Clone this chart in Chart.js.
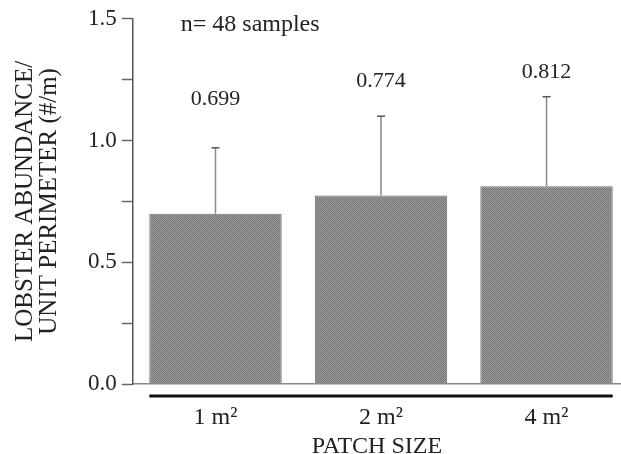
<!DOCTYPE html>
<html>
<head>
<meta charset="utf-8">
<script src="https://cdn.jsdelivr.net/npm/chart.js@4"></script>
<style>
  html, body { margin: 0; padding: 0; background: #fff; }
  #wrap { width: 621px; height: 454px; }
</style>
</head>
<body>
<div id="wrap"><canvas id="lobsterChart"></canvas></div>
<script>
// Values
const patchSizes = [1, 2, 4];
const patchLabels = ['1 m\u00B2', '2 m\u00B2', '4 m\u00B2'];
const meanAbundance = [0.699, 0.774, 0.812];
const errorUpper = [0.97, 1.10, 1.18];
const yTicks = [0, 0.25, 0.5, 0.75, 1.0, 1.25, 1.5];
const sampleNote = 'n= 48 samples';

const serif = "'Liberation Serif', 'DejaVu Serif', serif";

// halftone-ish grey fill like the scanned bars
function makeScreen() {
    const c = document.createElement('canvas');
    c.width = 2; c.height = 2;
    const g = c.getContext('2d');
    g.fillStyle = '#9c9c9c'; g.fillRect(0, 0, 2, 2);
    g.fillStyle = '#767676'; g.fillRect(0, 0, 1, 1); g.fillRect(1, 1, 1, 1);
    return g.createPattern(c, 'repeat');
}

const extras = {
    id: 'extras',
    afterDatasetsDraw(chart) {
        const { ctx, chartArea, scales: { y } } = chart;
        const bars = chart.getDatasetMeta(0).data;
        ctx.save();

        // error bars (upper only)
        bars.forEach((bar, i) => {
            const top = y.getPixelForValue(errorUpper[i]);
            ctx.strokeStyle = '#8a8a8a';
            ctx.lineWidth = 1.5;
            ctx.beginPath();
            ctx.moveTo(bar.x, bar.y);
            ctx.lineTo(bar.x, top);
            ctx.stroke();
            ctx.strokeStyle = '#555';
            ctx.beginPath();
            ctx.moveTo(bar.x - 4, top);
            ctx.lineTo(bar.x + 4, top);
            ctx.stroke();
        });

        // mean labels
        ctx.fillStyle = '#222';
        ctx.font = '22px ' + serif;
        ctx.textAlign = 'center';
        ctx.textBaseline = 'middle';
        bars.forEach((bar, i) => {
            ctx.fillText(meanAbundance[i].toFixed(3), bar.x, y.getPixelForValue(meanAbundance[i] + 0.47));
        });

        // sample size note
        ctx.textAlign = 'left';
        ctx.font = '24px ' + serif;
        ctx.fillText(sampleNote, chartArea.left + 48, chartArea.top + 6);

        // heavy rule under the bars
        const first = bars[0], last = bars[bars.length - 1];
        ctx.strokeStyle = '#111';
        ctx.lineWidth = 3;
        ctx.beginPath();
        ctx.moveTo(first.x - first.width / 2, chartArea.bottom + 12);
        ctx.lineTo(last.x + last.width / 2, chartArea.bottom + 12);
        ctx.stroke();

        ctx.restore();
    }
};

const ctx = document.getElementById('lobsterChart').getContext('2d');
new Chart(ctx, {
    type: 'bar',
    data: {
        datasets: [{
            data: meanAbundance.map((v, i) => ({ x: i + 1, y: v })),
            backgroundColor: makeScreen(),
            borderColor: '#6e6e6e',
            borderWidth: 1,
            categoryPercentage: 1,
            barPercentage: 0.8
        }]
    },
    options: {
        responsive: true,
        maintainAspectRatio: false,
        animation: false,
        layout: { padding: { top: 10, left: 13, right: 0, bottom: 0 } },
        plugins: {
            legend: { display: false },
            tooltip: { enabled: false }
        },
        scales: {
            x: {
                type: 'linear',
                offset: false,
                min: 0.5,
                max: 3.45,
                afterBuildTicks: (axis) => {
                    axis.ticks = patchSizes.map((p, i) => ({ value: i + 1 }));
                },
                grid: { display: false },
                border: { display: true, color: '#8a8a8a', width: 1.5 },
                ticks: {
                    color: '#222',
                    font: { family: serif, size: 24, lineHeight: 1.0 },
                    padding: 14,
                    callback: (v) => patchLabels[v - 1] || ''
                },
                title: {
                    display: true,
                    text: 'PATCH SIZE',
                    color: '#222',
                    font: { family: serif, size: 24, lineHeight: 1.0 },
                    padding: { top: -9, bottom: -5 }
                }
            },
            y: {
                min: 0,
                max: 1.5,
                afterBuildTicks: (axis) => {
                    axis.ticks = yTicks.map(v => ({ value: v }));
                },
                grid: {
                    drawOnChartArea: false,
                    drawTicks: true,
                    tickLength: 11,
                    tickColor: '#666',
                    tickWidth: 1.5
                },
                border: { display: true, color: '#555', width: 1.5 },
                ticks: {
                    autoSkip: false,
                    color: '#222',
                    padding: 5,
                    font: { family: serif, size: 23 },
                    callback: (v) => (v % 0.5 === 0 ? v.toFixed(1) : '')
                },
                title: {
                    display: true,
                    text: ['LOBSTER ABUNDANCE/', 'UNIT PERIMETER (#/m)'],
                    color: '#222',
                    font: { family: serif, size: 25, lineHeight: 0.96 },
                    padding: { top: 0, bottom: 22 }
                }
            }
        }
    },
    plugins: [extras]
});
</script>
</body>
</html>
